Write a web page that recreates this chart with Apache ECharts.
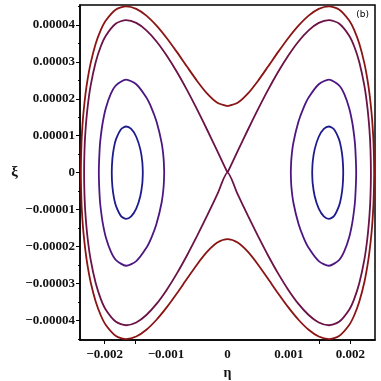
<!DOCTYPE html>
<html>
<head>
<meta charset="utf-8">
<script src="https://cdn.jsdelivr.net/npm/echarts@6/dist/echarts.min.js"></script>
<style>html,body{margin:0;padding:0;background:#fff}#c{width:381px;height:381px}</style>
</head>
<body>
<div id="c"></div>
<script>
// Quadrant points (eta >= 0, xi >= 0); curves are symmetric in both axes.
const outerQuad = [[0,1.8e-5],[0.000165,1.892e-5],[0.00033,2.139e-5],[0.000495,2.484e-5],[0.00066,2.874e-5],[0.000825,3.271e-5],[0.00099,3.648e-5],[0.001155,3.982e-5],[0.00132,4.253e-5],[0.001485,4.436e-5],[0.00165,4.505e-5],[0.001815,4.421e-5],[0.00198,4.122e-5],[0.0020625,3.86e-5],[0.002145,3.489e-5],[0.0022275,2.959e-5],[0.002277,2.519e-5],[0.00231,2.139e-5],[0.002343,1.636e-5],[0.0023595,1.294e-5],[0.002376,0.798e-5],[0.002386,0]];
const separatrixQuad = [[0,0],[0.000165,0.583e-5],[0.00033,1.156e-5],[0.000495,1.712e-5],[0.00066,2.241e-5],[0.000825,2.732e-5],[0.00099,3.173e-5],[0.001155,3.553e-5],[0.00132,3.853e-5],[0.001485,4.055e-5],[0.00165,4.13e-5],[0.001815,4.038e-5],[0.00198,3.709e-5],[0.0020625,3.415e-5],[0.002145,2.989e-5],[0.0022275,2.349e-5],[0.002277,1.762e-5],[0.00231,1.156e-5],[0.0023265,0.636e-5],[0.0023334,0]];
const midLoopHalf = [[0.00103,0],[0.0010395,0.382e-5],[0.0010725,0.813e-5],[0.001155,1.383e-5],[0.0012375,1.756e-5],[0.00132,2.034e-5],[0.001485,2.395e-5],[0.00165,2.52e-5],[0.001815,2.366e-5],[0.0018975,2.139e-5],[0.00198,1.746e-5],[0.0020295,1.365e-5],[0.0020625,0.976e-5],[0.002079,0.678e-5],[0.0020937,0]];
const innerLoopHalf = [[0.001378,0],[0.001386,0.29e-5],[0.001419,0.637e-5],[0.001485,0.973e-5],[0.0015675,1.183e-5],[0.00165,1.25e-5],[0.0017325,1.176e-5],[0.001815,0.9e-5],[0.001848,0.677e-5],[0.0018728,0.381e-5],[0.0018831,0]];

const etaTickVals = [-0.002,-0.001,0,0.001,0.002];
const etaTickLabels = ['\u22120.002','\u22120.001','0','0.001','0.002'];
const etaTickMarks = [-0.002,-0.0015,0.0015,0.002];
const xiTickVals = [-0.00004,-0.00003,-0.00002,-0.00001,0,0.00001,0.00002,0.00003,0.00004];
const xiTickLabels = ['\u22120.00004','\u22120.00003','\u22120.00002','\u22120.00001','0','0.00001','0.00002','0.00003','0.00004'];
const xiMinorMarks = [-0.000045,-0.000035,-0.000025,-0.000015,-0.000005,0.000005,0.000015,0.000025,0.000035,0.000045];

const colors = {outer:'#8b1414', sep:'#6b1246', mid:'#4c1782', inner:'#1e1b8e'};

function fullFromQuad(q){
  const ur = q.map(p=>[p[0],p[1]]);
  const lr = q.slice().reverse().map(p=>[p[0],-p[1]]);
  const ll = q.map(p=>[-p[0],-p[1]]);
  const ul = q.slice().reverse().map(p=>[-p[0],p[1]]);
  return ur.concat(lr.slice(1), ll.slice(1), ul.slice(1));
}
function loopFromHalf(h, sign){
  const up = h.map(p=>[sign*p[0],p[1]]);
  const lo = h.slice().reverse().map(p=>[sign*p[0],-p[1]]);
  return up.concat(lo.slice(1));
}
function lbl(vals, labels){
  return function(v){
    for(let i=0;i<vals.length;i++){ if(Math.abs(vals[i]-v) < Math.abs(vals[1]-vals[0])*1e-3) return labels[i]; }
    return '';
  };
}
const lineSeries = (name, data, color) => ({
  type:'line', name, data, showSymbol:false, smooth:0.25, xAxisIndex:0, yAxisIndex:0,
  lineStyle:{color, width:1.8}, silent:true, animation:false, clip:true
});

const font = {fontFamily:'Liberation Serif', fontSize:13, fontWeight:'bold', color:'#111'};
const chart = echarts.init(document.getElementById('c'), null, {renderer:'canvas'});
chart.setOption({
  animation:false,
  grid:{left:80, right:6, top:5, bottom:41, containLabel:false, outerBoundsMode:'none', show:true, borderColor:'#000', borderWidth:1.5, backgroundColor:'transparent'},
  xAxis:[{
    type:'value', min:-0.0024, max:0.0024,
    axisLine:{show:true, onZero:false, lineStyle:{color:'#000', width:1.5}},
    axisTick:{show:true, length:4, lineStyle:{color:'#000'}, customValues:etaTickMarks},
    axisLabel:Object.assign({customValues:etaTickVals, formatter:lbl(etaTickVals, etaTickLabels), margin:8}, font),
    splitLine:{show:false},
    name:'\u03b7', nameLocation:'middle', nameGap:21, nameTextStyle:Object.assign({}, font, {fontSize:14})
  }],
  yAxis:[{
    type:'value', min:-4.53e-5, max:4.54e-5,
    axisLine:{show:true, onZero:false, lineStyle:{color:'#000', width:1.5}},
    axisTick:{show:true, length:4, lineStyle:{color:'#000'}, customValues:xiTickVals},
    axisLabel:Object.assign({customValues:xiTickVals, formatter:lbl(xiTickVals, xiTickLabels), margin:5}, font),
    splitLine:{show:false},
    name:'\u03be', nameLocation:'middle', nameGap:62, nameRotate:0, nameTextStyle:Object.assign({}, font, {fontSize:15})
  },{
    type:'value', min:-4.53e-5, max:4.54e-5, position:'left',
    axisLine:{show:false, onZero:false},
    axisTick:{show:true, length:2, lineStyle:{color:'#000'}, customValues:xiMinorMarks},
    axisLabel:{show:false}, splitLine:{show:false}
  }],
  graphic:[{type:'text', right:12, top:10, style:{text:'(b)', font:'9px "DejaVu Sans"', fill:'#000'}}],
  series:[
    lineSeries('outer', fullFromQuad(outerQuad), colors.outer),
    lineSeries('separatrix', fullFromQuad(separatrixQuad), colors.sep),
    lineSeries('midR', loopFromHalf(midLoopHalf, 1), colors.mid),
    lineSeries('midL', loopFromHalf(midLoopHalf, -1), colors.mid),
    lineSeries('innerR', loopFromHalf(innerLoopHalf, 1), colors.inner),
    lineSeries('innerL', loopFromHalf(innerLoopHalf, -1), colors.inner)
  ]
});
</script>
</body>
</html>
